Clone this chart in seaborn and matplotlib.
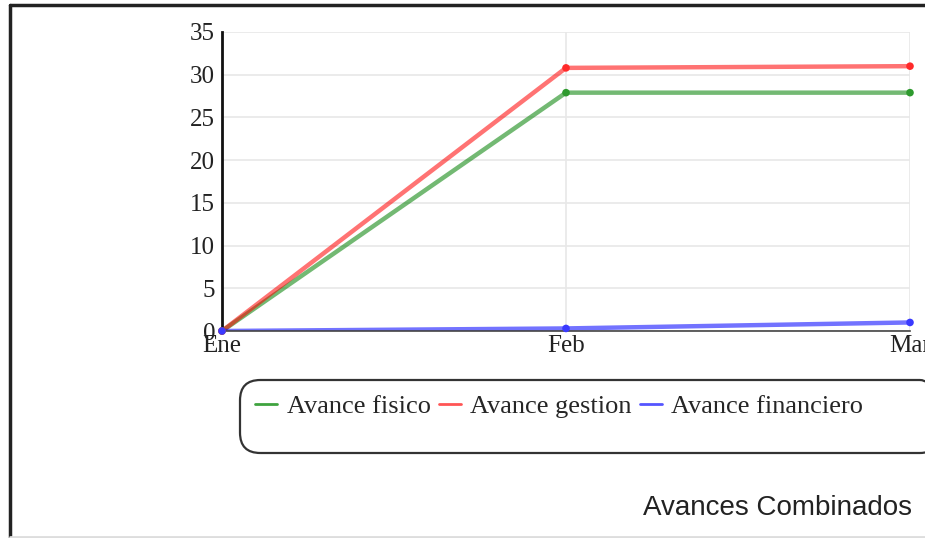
import matplotlib
matplotlib.use("Agg")
import matplotlib.pyplot as plt
from matplotlib.lines import Line2D
from matplotlib.patches import FancyBboxPatch
import seaborn as sns
import pandas as pd

months = ["Ene", "Feb", "Mar"]
avance_fisico = [0, 27.9, 27.9]
avance_gestion = [0, 30.8, 31.0]
avance_financiero = [0, 0.3, 1.0]
series_names = ["Avance fisico", "Avance gestion", "Avance financiero"]
y_ticks = [0, 5, 10, 15, 20, 25, 30, 35]

sns.set_theme(style="white")
plt.rcParams["font.family"] = ["Liberation Serif", "DejaVu Serif"]

W, H = 925, 538
fig = plt.figure(figsize=(W / 100, H / 100), dpi=100)
ax = fig.add_axes([222 / W, 1 - 331 / H, (910 - 222) / W, (331 - 32) / H])

line_colors = ["#008000", "#ff0000", "#0000ff"]
marker_colors = ["#2e9a2e", "#ff2a2a", "#3a3aff"]
legend_colors = ["#3fa33f", "#ff5555", "#5555ff"]
values = [avance_fisico, avance_gestion, avance_financiero]

for name, vals, lc, mc in zip(series_names, values, line_colors, marker_colors):
    df = pd.DataFrame({"mes": months, "valor": vals})
    sns.lineplot(data=df, x="mes", y="valor", ax=ax, color=lc, alpha=0.55,
                 linewidth=3.2, sort=False, legend=False)
    sns.scatterplot(data=df, x="mes", y="valor", ax=ax, color=mc, s=30,
                    edgecolor="none", legend=False, zorder=5, clip_on=False)

ax.set_xlim(0, 2)
ax.set_ylim(0, 35)
ax.set_yticks(y_ticks)
ax.set_xlabel("")
ax.set_ylabel("")
ax.grid(True, color="#e8e8e8", linewidth=1.2)
ax.set_axisbelow(True)
for s in ["top", "right"]:
    ax.spines[s].set_visible(False)
ax.spines["left"].set_color("#111111")
ax.spines["left"].set_linewidth(2.0)
ax.spines["bottom"].set_color("#444444")
ax.spines["bottom"].set_linewidth(1.2)
ax.tick_params(axis="y", length=0, pad=5, labelsize=18, labelcolor="#222222")
ax.tick_params(axis="x", length=0, pad=3, labelsize=18, labelcolor="#222222")

# legend
handles = [Line2D([0], [0], color=c, lw=2) for c in legend_colors]
fig.legend(handles, series_names, loc="center left",
           bbox_to_anchor=(255 / W, 1 - 406 / H), ncol=3, frameon=False,
           fontsize=19, handlelength=0.85, handletextpad=0.35,
           columnspacing=0.3, borderpad=0, borderaxespad=0)
box = FancyBboxPatch((240 / W, 1 - 453 / H), (940 - 240) / W, (453 - 380) / H,
                     boxstyle="round,pad=0,rounding_size=0.022",
                     mutation_aspect=W / H, transform=fig.transFigure,
                     facecolor="none", edgecolor="#333333", linewidth=1.6)
fig.add_artist(box)

# outer frame
fig.add_artist(Line2D([10 / W, 10 / W], [1 - 5 / H, 0], transform=fig.transFigure,
                      color="#222222", lw=2.5))
fig.add_artist(Line2D([10 / W, 1], [1 - 5 / H, 1 - 5 / H], transform=fig.transFigure,
                      color="#222222", lw=2.5))
fig.add_artist(Line2D([10 / W, 1], [1 - 536.5 / H, 1 - 536.5 / H],
                      transform=fig.transFigure, color="#dddddd", lw=2))

fig.text(912 / W, 1 - 508 / H, "Avances Combinados", ha="right", va="center",
         fontsize=20, color="#222222", family=["Liberation Sans", "DejaVu Sans"])

fig.savefig("out.png", dpi=100)
